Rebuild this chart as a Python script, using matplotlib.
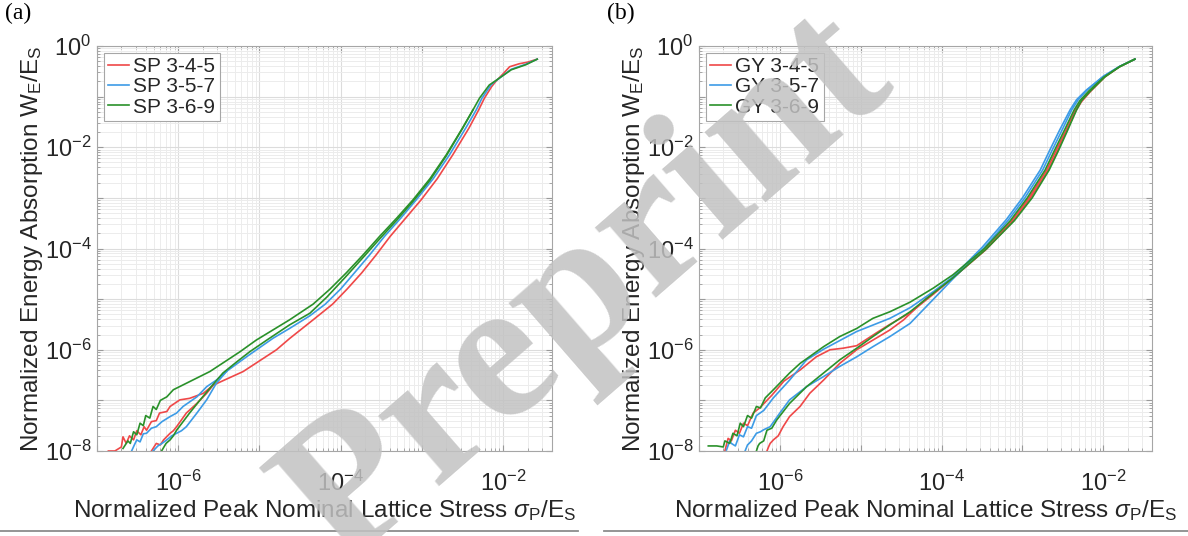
import numpy as np
import matplotlib
matplotlib.use('Agg')
import matplotlib.pyplot as plt
from matplotlib.ticker import LogLocator, FuncFormatter, NullFormatter
from matplotlib.lines import Line2D

plt.rcParams['font.family'] = ['Liberation Sans', 'DejaVu Sans']
plt.rcParams['mathtext.fontset'] = 'custom'
plt.rcParams['mathtext.rm'] = 'Liberation Sans'
plt.rcParams['mathtext.it'] = 'Liberation Sans:italic'
plt.rcParams['mathtext.sf'] = 'Liberation Sans'

# ---------------- data (log10 of sigma_P/E_S and W_E/E_S) ----------------
# Panel (a): SP lattices, two traces per lattice
sp345_1_lx = [-6.86, -6.78, -6.70, -6.68, -6.64, -6.60, -6.55, -6.51, -6.46, -6.42, -6.39, -6.33, -6.27, -6.23,
              -6.14, -6.10, -5.98, -5.86, -5.69, -5.57, -5.20, -4.79, -4.63, -4.34, -4.10, -3.92, -3.74, -3.56,
              -3.39, -3.20, -3.01, -2.81, -2.62, -2.42, -2.30, -2.23, -2.14, -2.09, -2.00, -1.92, -1.80, -1.70,
              -1.58]
sp345_1_ly = [-8.00, -8.00, -7.92, -7.72, -7.85, -7.70, -7.78, -7.60, -7.68, -7.52, -7.59, -7.42, -7.40, -7.25,
              -7.22, -7.12, -6.99, -6.96, -6.86, -6.70, -6.43, -6.00, -5.78, -5.41, -5.10, -4.80, -4.48, -4.12,
              -3.76, -3.40, -3.04, -2.62, -2.15, -1.62, -1.26, -1.03, -0.80, -0.70, -0.55, -0.41, -0.35, -0.32,
              -0.26]
sp345_2_lx = [-6.33, -6.27, -6.22, -6.18, -6.10, -6.06, -6.02, -5.90, -5.77, -5.65, -5.57]
sp345_2_ly = [-8.00, -7.85, -7.88, -7.78, -7.65, -7.60, -7.52, -7.25, -7.06, -6.86, -6.70]

sp357_1_lx = [-6.574, -6.54, -6.51, -6.47, -6.43, -6.39, -6.33, -6.27, -6.20, -6.10, -6.02, -5.94, -5.77, -5.65,
              -5.53, -5.40, -5.16, -4.83, -4.63, -4.38, -4.19, -4.00, -3.83, -3.64, -3.46, -3.26, -3.07, -2.86,
              -2.66, -2.46, -2.33, -2.26, -2.15, -2.10, -1.90, -1.72, -1.58]
sp357_1_ly = [-8.00, -7.88, -7.78, -7.82, -7.66, -7.65, -7.55, -7.52, -7.42, -7.32, -7.25, -7.12, -6.93, -6.73,
              -6.60, -6.42, -6.14, -5.77, -5.58, -5.33, -5.10, -4.80, -4.48, -4.12, -3.76, -3.40, -3.04, -2.62,
              -2.15, -1.62, -1.26, -1.03, -0.77, -0.70, -0.46, -0.36, -0.26]
sp357_2_lx = [-6.31, -6.25, -6.20, -6.14, -6.08, -6.02, -5.96, -5.90, -5.77, -5.65, -5.53, -5.40]
sp357_2_ly = [-8.00, -7.90, -7.85, -7.78, -7.70, -7.65, -7.60, -7.52, -7.25, -6.99, -6.66, -6.42]

sp369_1_lx = [-6.68, -6.62, -6.59, -6.55, -6.51, -6.47, -6.43, -6.40, -6.35, -6.31, -6.27, -6.22, -6.14, -6.06,
              -5.86, -5.61, -5.24, -5.04, -4.63, -4.34, -4.13, -3.93, -3.72, -3.52, -3.31, -3.11, -2.90, -2.70,
              -2.50, -2.37, -2.29, -2.17, -2.105, -1.90, -1.72, -1.58]
sp369_1_ly = [-7.95, -7.80, -7.85, -7.62, -7.68, -7.45, -7.50, -7.30, -7.35, -7.12, -7.18, -7.00, -6.93, -6.79,
              -6.63, -6.43, -6.04, -5.81, -5.41, -5.10, -4.80, -4.48, -4.12, -3.76, -3.40, -3.04, -2.62, -2.15,
              -1.62, -1.26, -1.03, -0.77, -0.70, -0.47, -0.37, -0.26]
sp369_2_lx = [-6.205, -6.15, -6.10, -6.06, -6.02, -5.94, -5.86, -5.73, -5.61, -5.45, -5.28, -5.12, -4.91, -4.63,
              -4.38, -4.17, -3.95, -3.72, -3.52, -3.31, -3.11, -2.90, -2.70, -2.50, -2.37]
sp369_2_ly = [-8.00, -7.85, -7.78, -7.70, -7.59, -7.42, -7.25, -6.99, -6.76, -6.46, -6.24, -6.04, -5.81, -5.51,
              -5.28, -4.96, -4.58, -4.17, -3.81, -3.44, -3.07, -2.65, -2.17, -1.63, -1.26]

# Panel (b): GY lattices, two traces per lattice
gy345_1_lx = [-6.68, -6.64, -6.60, -6.55, -6.50, -6.45, -6.40, -6.33, -6.25, -6.10, -5.95, -5.75, -5.55, -5.38,
              -5.22, -5.05, -4.80, -4.64, -4.39, -4.10, -3.86, -3.46, -3.13, -2.92, -2.70, -2.58, -2.46, -2.35,
              -2.28, -2.17, -1.99, -1.80, -1.61]
gy345_1_ly = [-8.00, -7.75, -7.80, -7.59, -7.65, -7.45, -7.50, -7.25, -7.15, -6.90, -6.62, -6.40, -6.14, -6.00,
              -5.97, -5.92, -5.66, -5.50, -5.27, -4.90, -4.58, -4.02, -3.45, -3.00, -2.45, -2.05, -1.66, -1.28,
              -1.10, -0.90, -0.61, -0.41, -0.26]
gy345_2_lx = [-6.16, -6.14, -6.12, -6.08, -6.05, -6.02, -5.96, -5.88, -5.75, -5.63, -5.46, -5.26, -5.05, -4.85,
              -4.64, -4.47, -4.20, -3.86, -3.45, -3.11, -2.90, -2.68, -2.56, -2.45, -2.34, -2.27, -2.16, -1.98,
              -1.80, -1.61]
gy345_2_ly = [-8.00, -7.92, -7.85, -7.78, -7.74, -7.70, -7.52, -7.32, -7.12, -6.86, -6.60, -6.27, -6.00, -5.81,
              -5.61, -5.41, -5.00, -4.58, -4.02, -3.45, -3.00, -2.45, -2.05, -1.66, -1.28, -1.10, -0.90, -0.61,
              -0.41, -0.26]

gy357_1_lx = [-6.66, -6.62, -6.60, -6.55, -6.50, -6.45, -6.40, -6.35, -6.29, -6.20, -6.08, -5.88, -5.67, -5.46,
              -5.05, -4.64, -4.39, -4.10, -3.86, -3.50, -3.20, -3.00, -2.78, -2.66, -2.54, -2.41, -2.33, -2.21,
              -2.00, -1.80, -1.61]
gy357_1_ly = [-7.98, -7.80, -7.85, -7.90, -7.68, -7.72, -7.52, -7.55, -7.30, -7.20, -6.95, -6.60, -6.20, -5.99,
              -5.64, -5.38, -5.17, -4.85, -4.56, -3.98, -3.43, -3.00, -2.45, -2.05, -1.66, -1.26, -1.06, -0.87,
              -0.60, -0.405, -0.26]
gy357_2_lx = [-6.43, -6.40, -6.38, -6.35, -6.29, -6.24, -6.20, -6.12, -6.00, -5.88, -5.67, -5.46, -5.26, -5.05,
              -4.85, -4.64, -4.39, -4.10, -3.86, -3.47, -3.17, -2.97, -2.75, -2.63, -2.51, -2.39, -2.31, -2.20,
              -2.00, -1.80, -1.61]
gy357_2_ly = [-8.00, -7.88, -7.85, -7.80, -7.65, -7.62, -7.58, -7.52, -7.25, -6.99, -6.73, -6.53, -6.33, -6.14,
              -5.94, -5.74, -5.48, -5.00, -4.60, -3.98, -3.43, -3.00, -2.45, -2.05, -1.66, -1.26, -1.06, -0.87,
              -0.60, -0.405, -0.26]

gy369_1_lx = [-6.885, -6.78, -6.70, -6.68, -6.62, -6.58, -6.53, -6.49, -6.45, -6.40, -6.35, -6.29, -6.24, -6.18,
              -6.08, -5.88, -5.75, -5.46, -5.26, -5.05, -4.85, -4.64, -4.39, -4.10, -3.86, -3.47, -3.15, -2.94,
              -2.72, -2.60, -2.48, -2.36, -2.29, -2.18, -1.99, -1.80, -1.61]
gy369_1_ly = [-7.90, -7.90, -7.92, -7.80, -7.85, -7.65, -7.70, -7.45, -7.52, -7.30, -7.35, -7.12, -7.15, -6.95,
              -6.79, -6.46, -6.27, -5.94, -5.74, -5.58, -5.38, -5.25, -5.06, -4.78, -4.52, -4.00, -3.45, -3.00,
              -2.45, -2.05, -1.66, -1.26, -1.08, -0.89, -0.61, -0.41, -0.26]
gy369_2_lx = [-6.29, -6.27, -6.25, -6.20, -6.16, -6.10, -6.04, -5.88, -5.67, -5.46, -5.26, -5.05, -4.85, -4.64,
              -4.39, -4.10, -3.86, -3.44, -3.10, -2.88, -2.67, -2.55, -2.44, -2.33, -2.27, -2.16, -1.98, -1.80,
              -1.61]
gy369_2_ly = [-8.00, -7.90, -7.85, -7.80, -7.59, -7.55, -7.39, -7.06, -6.73, -6.46, -6.20, -5.97, -5.74, -5.51,
              -5.25, -4.88, -4.58, -4.00, -3.45, -3.00, -2.45, -2.05, -1.66, -1.26, -1.08, -0.89, -0.61, -0.41,
              -0.26]

labels_a = ['SP 3-4-5', 'SP 3-5-7', 'SP 3-6-9']
labels_b = ['GY 3-4-5', 'GY 3-5-7', 'GY 3-6-9']
colors = ['#ef4848', '#3d9be6', '#2a912a']

xlim = (1e-7, 4e-2)
ylim = (1e-8, 1.0)

panel_a = [((sp345_1_lx, sp345_1_ly), (sp345_2_lx, sp345_2_ly)),
           ((sp357_1_lx, sp357_1_ly), (sp357_2_lx, sp357_2_ly)),
           ((sp369_1_lx, sp369_1_ly), (sp369_2_lx, sp369_2_ly))]
panel_b = [((gy345_1_lx, gy345_1_ly), (gy345_2_lx, gy345_2_ly)),
           ((gy357_1_lx, gy357_1_ly), (gy357_2_lx, gy357_2_ly)),
           ((gy369_1_lx, gy369_1_ly), (gy369_2_lx, gy369_2_ly))]

W, H = 1188, 536
fig = plt.figure(figsize=(W / 100, H / 100), dpi=100)

def pix_axes(x0, y0, x1, y1):
    return fig.add_axes([x0 / W, 1 - y1 / H, (x1 - x0) / W, (y1 - y0) / H])

def fmt(v, pos):
    e = int(round(np.log10(v)))
    if e % 2 != 0:
        return ''
    return r'$\mathregular{10^{%d}}$' % e

def setup(ax, labels, series):
    ax.set_xscale('log')
    ax.set_yscale('log')
    for (tr1, tr2), c, lab in zip(series, colors, labels):
        ax.plot(10 ** np.array(tr1[0]), 10 ** np.array(tr1[1]), color=c, lw=1.2, label=lab)
        ax.plot(10 ** np.array(tr2[0]), 10 ** np.array(tr2[1]), color=c, lw=1.2)
    ax.set_xlim(*xlim)
    ax.set_ylim(*ylim)
    for axis in (ax.xaxis, ax.yaxis):
        axis.set_major_locator(LogLocator(base=10, numticks=20))
        axis.set_minor_locator(LogLocator(base=10, subs=np.arange(2, 10), numticks=100))
        axis.set_major_formatter(FuncFormatter(fmt))
        axis.set_minor_formatter(NullFormatter())
    ax.grid(True, which='major', color='#dcdcdc', lw=0.8)
    ax.grid(True, which='minor', color='#ececec', lw=0.7)
    ax.set_axisbelow(True)
    ax.tick_params(which='both', direction='in', top=True, right=True, colors='#9a9a9a',
                   labelcolor='#262626', labelsize=17)
    ax.tick_params(which='major', length=4)
    ax.tick_params(which='minor', length=2)
    ax.tick_params(axis='x', pad=14)
    ax.tick_params(axis='y', pad=4)
    for s in ax.spines.values():
        s.set_color('#a6a6a6')
        s.set_linewidth(0.8)
    ax.set_xlabel(r'Normalized Peak Nominal Lattice Stress $\sigma_{\mathrm{P}}/\mathrm{E}_{\mathrm{S}}$',
                  fontsize=17.5, color='#262626', labelpad=2)
    ax.set_ylabel(r'Normalized Energy Absorption W$_{\mathrm{E}}$/E$_{\mathrm{S}}$',
                  fontsize=17.5, color='#262626', labelpad=0)
    leg = ax.legend(loc='upper left', fontsize=15, handlelength=1.0, handletextpad=0.2,
                    borderpad=0.2, labelspacing=0.05, borderaxespad=0.35, fancybox=False,
                    framealpha=1.0, edgecolor='#a6a6a6')
    leg.get_frame().set_linewidth(0.8)
    for t in leg.get_texts():
        t.set_color('#262626')

ax_a = pix_axes(97, 46, 552, 451)
setup(ax_a, labels_a, panel_a)
ax_b = pix_axes(699, 46, 1152, 451)
setup(ax_b, labels_b, panel_b)

fig.text(5 / W, 1 - 3 / H, '(a)', family='Liberation Serif', fontsize=17, va='top', ha='left')
fig.text(607 / W, 1 - 3 / H, '(b)', family='Liberation Serif', fontsize=17, va='top', ha='left')

# separator lines under each panel
fig.add_artist(Line2D([0, 578 / W], [1 - 531 / H] * 2, color='#8c8c8c', lw=1.3))
fig.add_artist(Line2D([604 / W, 1], [1 - 531 / H] * 2, color='#8c8c8c', lw=1.3))

# watermark
fig.text(588 / W, 1 - 290 / H, 'Preprint', family='Liberation Serif', fontsize=145, fontweight='bold',
         rotation=41, color='#c2c2c2', alpha=0.85, ha='center', va='center', zorder=20)

fig.savefig('out.png', dpi=100)
